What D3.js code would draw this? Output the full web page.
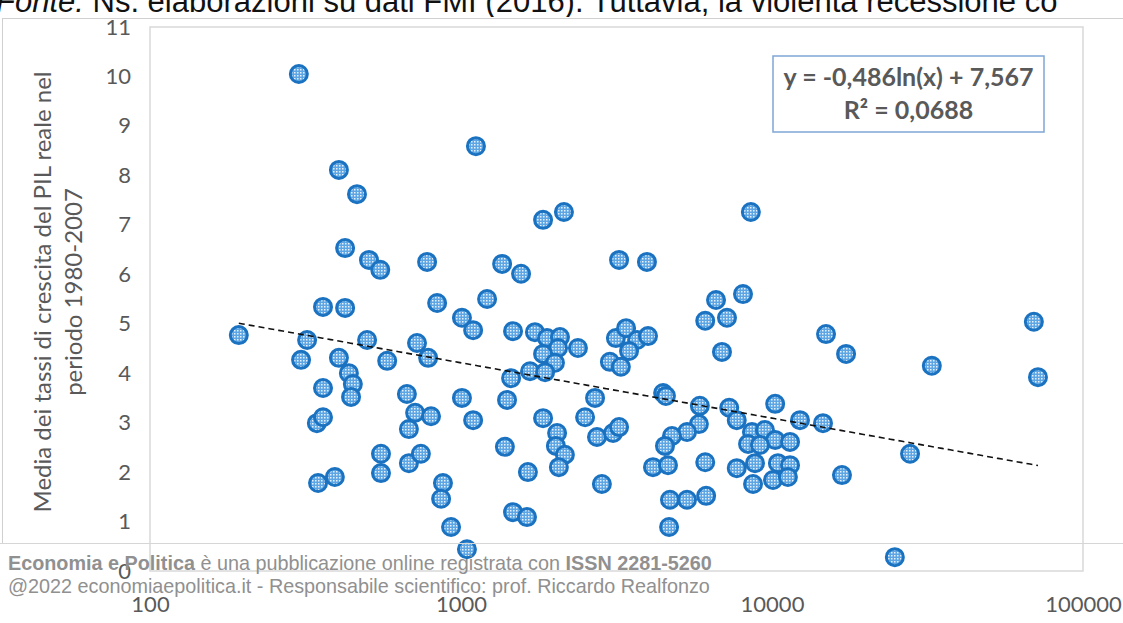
<!DOCTYPE html>
<html>
<head>
<meta charset="utf-8">
<script src="https://cdn.jsdelivr.net/npm/d3@7"></script>
<style>
  html, body { margin: 0; padding: 0; background: #fff; }
  svg { display: block; }
</style>
</head>
<body>
<svg id="chart" width="1123" height="623"></svg>
<script>
// PIL pro capite (scala logaritmica) e crescita media del PIL reale 1980-2007
const pilProCapite = [
  193, 301, 306, 320, 360, 424, 360, 344, 360, 347, 393, 405, 405, 436, 449, 443,
  463, 424, 506, 499, 550, 579, 553, 553, 670, 680, 712, 801, 722, 784, 680, 743,
  778, 838, 875, 863, 929, 1007, 1007, 1045, 1094, 1094, 1117,
  1213, 1356, 1560, 1470, 1729, 1891, 2081, 2051, 1836, 2005, 2377, 1667, 1864, 1449,
  1406, 1836, 2037, 2019, 2158, 2064, 1384, 1641, 1470, 1630, 1836, 2143, 3148, 3395,
  3683, 3993, 3470, 3011, 3266, 2698, 2506, 2737, 3083, 3223, 2838, 3223, 3962,
  6607, 8068, 6100, 7166, 6905, 4466, 4560, 5861, 7285, 10238, 5820, 5330, 4769, 4528,
  4143, 4630, 6100, 7703, 8621, 9491, 10238, 8375, 9150, 7703, 8818, 10447, 8690, 10075,
  4699, 5330, 6141, 4667, 8551, 12303, 14588, 11428, 11428, 11250, 16788, 27790, 14918,
  17304, 32650, 69500, 71650, 24830
];
const crescitaMedia = [
  4.77, 10.05, 4.27, 4.67, 5.34, 5.32, 3.70, 2.99, 3.11, 1.78, 1.90, 8.11, 4.31, 4.00, 3.78, 3.52,
  7.62, 6.53, 6.29, 4.67, 6.09, 4.25, 2.37, 1.98, 3.58, 2.87, 3.20, 3.13, 4.61, 4.31, 2.18, 2.37,
  6.25, 5.42, 1.78, 1.46, 0.89, 5.12, 3.50, 0.44, 3.05, 4.87, 8.59,
  5.50, 6.21, 6.01, 4.85, 4.83, 4.71, 4.73, 4.51, 4.39, 4.21, 4.51, 4.04, 4.02, 3.90,
  3.46, 3.09, 2.79, 2.53, 2.35, 2.10, 2.51, 2.00, 1.19, 1.09, 7.10, 7.26, 4.71, 4.91,
  4.67, 4.75, 4.45, 4.23, 4.13, 3.50, 3.11, 2.71, 2.79, 2.91, 1.76, 6.29, 6.25,
  5.48, 5.60, 5.06, 5.12, 4.43, 3.60, 3.54, 3.34, 3.30, 3.38, 2.97, 2.81, 2.73, 2.53,
  2.10, 2.14, 2.20, 3.05, 2.81, 2.85, 2.65, 2.57, 2.55, 2.08, 2.18, 2.18, 1.76, 1.84,
  1.44, 1.44, 1.52, 0.89, 7.26, 3.05, 2.99, 2.61, 2.14, 1.90, 1.94, 2.37, 4.79,
  4.39, 4.15, 5.04, 3.92, 0.28
];

const xTickValues = [100, 1000, 10000, 100000];
const yTickValues = [0, 1, 2, 3, 4, 5, 6, 7, 8, 9, 10, 11];

// trend logaritmico: y = a ln(x) + b
const trendA = -0.486;
const trendB = 7.567;
const equationLines = ["y = -0,486ln(x) + 7,567", "R² = 0,0688"];

const yTitleLines = ["Media dei tassi di crescita del PIL reale nel", "periodo 1980-2007"];

const svg = d3.select("#chart");
const W = 1123, H = 623;

const plot = { left: 150, right: 1083, top: 27, bottom: 571 };

const x = d3.scaleLog().domain([100, 100000]).range([plot.left, plot.right]);
const y = d3.scaleLinear().domain([0, 11]).range([plot.bottom, plot.top]);

const axisFont = "Lato, 'Open Sans', sans-serif";
const grey = "#595959";

// riga di testo tagliata in alto
const headLine = svg.append("text")
  .attr("x", -4).attr("y", 12)
  .attr("font-family", "'Liberation Sans', Arial, sans-serif")
  .attr("font-size", 31)
  .attr("fill", "#111");
headLine.append("tspan").attr("font-style", "italic").text("Fonte:");
headLine.append("tspan").text(" Ns. elaborazioni su dati FMI (2016).   Tuttavia, la violenta recessione co");

// bordo dell'area del grafico
svg.append("rect").attr("x", 0).attr("y", 17).attr("width", W).attr("height", 2).attr("fill", "#fff");
svg.append("line").attr("x1", 2).attr("x2", W).attr("y1", 18.5).attr("y2", 18.5)
  .attr("stroke", "#d0d0d0").attr("stroke-width", 1);
svg.append("line").attr("x1", 2.5).attr("x2", 2.5).attr("y1", 18).attr("y2", 543)
  .attr("stroke", "#d0d0d0").attr("stroke-width", 1);

// motivo di riempimento dei marcatori
const defs = svg.append("defs");
const pat = defs.append("pattern")
  .attr("id", "dots").attr("patternUnits", "userSpaceOnUse")
  .attr("width", 3).attr("height", 3);
pat.append("rect").attr("width", 3).attr("height", 3).attr("fill", "#5ea6e3");
pat.append("rect").attr("x", 0).attr("y", 0).attr("width", 1.5).attr("height", 1.5).attr("fill", "#e6f1fb");

// riquadro dell'area del tracciato
svg.append("rect")
  .attr("x", plot.left).attr("y", plot.top)
  .attr("width", plot.right - plot.left).attr("height", plot.bottom - plot.top)
  .attr("fill", "none").attr("stroke", "#d9d9d9").attr("stroke-width", 1.5);

// etichette asse Y
const yAxis = d3.axisLeft(y).tickValues(yTickValues).tickSize(0).tickPadding(0).tickFormat(d3.format("d"));
const gy = svg.append("g").attr("transform", `translate(${131},0)`).call(yAxis);
gy.select(".domain").remove();
gy.selectAll("text")
  .attr("font-family", axisFont).attr("font-size", 22).attr("fill", grey);

// etichette asse X
const xAxis = d3.axisBottom(x).tickValues(xTickValues).tickSize(0).tickPadding(0).tickFormat(d3.format("d"));
const gx = svg.append("g").attr("transform", `translate(0,${596})`).call(xAxis);
gx.select(".domain").remove();
gx.selectAll("text")
  .attr("font-family", axisFont).attr("font-size", 22).attr("fill", grey);

// titolo asse Y su due righe
const yTitle = svg.append("g").attr("transform", `translate(0,${292}) rotate(-90)`);
yTitle.selectAll("text").data(yTitleLines).join("text")
  .attr("x", 0).attr("y", (d, i) => 51 + i * 31)
  .attr("text-anchor", "middle")
  .attr("font-family", axisFont).attr("font-size", 24)
  .attr("fill", grey)
  .text(d => d);

// punti
const points = pilProCapite.map((v, i) => ({ v, g: crescitaMedia[i] }));
svg.append("g").selectAll("circle").data(points).join("circle")
  .attr("cx", d => x(d.v))
  .attr("cy", d => y(d.g))
  .attr("r", 8.5)
  .attr("fill", "url(#dots)")
  .attr("stroke", "#1a72c0")
  .attr("stroke-width", 3);

// linea di tendenza tratteggiata sull'intervallo dei dati
const [xmin, xmax] = d3.extent(pilProCapite);
const trendPts = d3.range(0, 201).map(k => {
  const lv = Math.log10(xmin) + (Math.log10(xmax) - Math.log10(xmin)) * k / 200;
  const xv = Math.pow(10, lv);
  return [xv, trendA * Math.log(xv) + trendB];
});
svg.append("path")
  .datum(trendPts)
  .attr("d", d3.line().x(d => x(d[0])).y(d => y(d[1])))
  .attr("fill", "none")
  .attr("stroke", "#111")
  .attr("stroke-width", 1.6)
  .attr("stroke-dasharray", "6,4");

// riquadro dell'equazione
const eq = svg.append("g");
eq.append("rect")
  .attr("x", 773).attr("y", 56).attr("width", 271).attr("height", 76)
  .attr("fill", "#fff").attr("stroke", "#7ea6d6").attr("stroke-width", 1.5);
eq.selectAll("text").data(equationLines).join("text")
  .attr("x", 908.5).attr("y", (d, i) => 86 + i * 33)
  .attr("text-anchor", "middle")
  .attr("font-family", axisFont).attr("font-size", 25).attr("font-weight", "bold")
  .attr("fill", grey)
  .text(d => d);

// banda editoriale in basso
svg.append("line").attr("x1", 0).attr("x2", W).attr("y1", 543.5).attr("y2", 543.5)
  .attr("stroke", "#d6d6d6").attr("stroke-width", 1);
const credit = svg.append("g")
  .attr("font-family", "'Liberation Sans', Arial, sans-serif")
  .attr("font-size", 19.8).attr("fill", "#909090");
const l1 = credit.append("text").attr("x", 8).attr("y", 570);
l1.append("tspan").attr("font-weight", "bold").text("Economia e Politica");
l1.append("tspan").text(" è una pubblicazione online registrata con ");
l1.append("tspan").attr("font-weight", "bold").text("ISSN 2281-5260");
credit.append("text").attr("x", 8).attr("y", 593)
  .text("@2022 economiaepolitica.it - Responsabile scientifico: prof. Riccardo Realfonzo");
</script>
</body>
</html>
